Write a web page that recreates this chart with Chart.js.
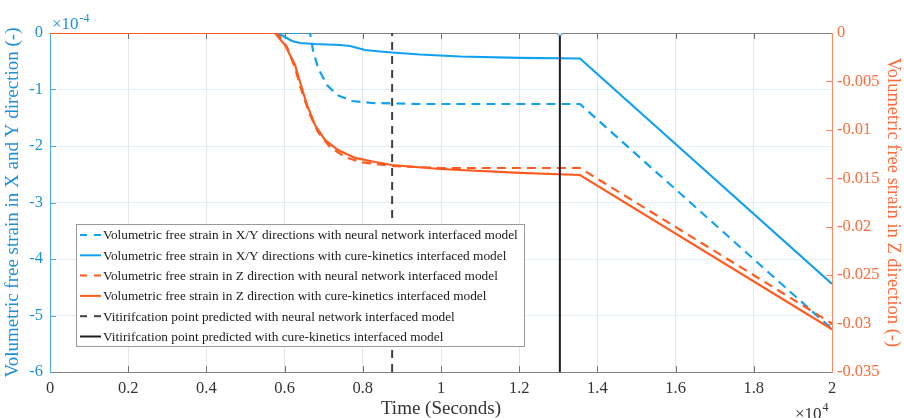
<!DOCTYPE html>
<html>
<head>
<meta charset="utf-8">
<script src="https://cdn.jsdelivr.net/npm/chart.js@4.4.1/dist/chart.umd.min.js"></script>
<style>
  html, body { margin: 0; padding: 0; background: #ffffff; }
  #wrap { width: 904px; height: 418px; }
</style>
</head>
<body>
<div id="wrap"><canvas id="c" width="904" height="418"></canvas></div>
<script>
// Time in seconds, strains dimensionless.
// X/Y strain, neural network interfaced model (left axis)
const TIME_XY_NN   = [0, 6650, 6726, 6854, 7084, 7340, 7724, 8235, 9463, 13555, 20000];
const STRAIN_XY_NN = [0, 0, -0.301e-4, -0.619e-4, -0.920e-4, -1.097e-4, -1.204e-4, -1.239e-4, -1.257e-4, -1.257e-4, -5.24e-4];

// X/Y strain, cure-kinetics interfaced model (left axis)
const TIME_XY_CK   = [0, 5806, 6010, 6189, 6394, 6777, 7417, 7673, 8056, 8440, 8747, 9463, 10486, 12020, 13555, 20000];
const STRAIN_XY_CK = [0, 0, -0.071e-4, -0.142e-4, -0.177e-4, -0.195e-4, -0.212e-4, -0.230e-4, -0.301e-4, -0.327e-4, -0.345e-4, -0.381e-4, -0.416e-4, -0.439e-4, -0.451e-4, -4.44e-4];

// Z strain, neural network interfaced model (right axis)
const TIME_Z_NN   = [0, 5806, 6061, 6266, 6445, 6650, 6854, 7161, 7545, 7928, 8312, 8747, 9974, 13555, 20000];
const STRAIN_Z_NN = [0, 0, -0.00145, -0.00361, -0.00609, -0.00847, -0.01022, -0.01177, -0.01280, -0.01332, -0.01352, -0.01373, -0.01394, -0.01394, -0.0300];

// Z strain, cure-kinetics interfaced model (right axis)
const TIME_Z_CK   = [0, 5754, 6010, 6266, 6394, 6573, 6777, 7033, 7366, 7801, 8312, 8747, 9974, 12020, 13555, 20000];
const STRAIN_Z_CK = [0, 0, -0.00124, -0.00330, -0.00506, -0.00743, -0.00950, -0.01104, -0.01208, -0.01290, -0.01332, -0.01363, -0.01404, -0.01445, -0.01466, -0.0306];

// Vitrification points
const VITRI_NN_TIME = 8750;
const VITRI_CK_TIME = 13040;

// Axis ranges and tick steps
const X_RANGE = [0, 20000], X_STEP = 2000;
const YL_RANGE = [-6e-4, 0], YL_STEP = 1e-4;
const YR_RANGE = [-0.035, 0], YR_STEP = 0.005;

const LABELS = [
  'Volumetric free strain in X/Y directions with neural network interfaced model',
  'Volumetric free strain in X/Y directions with cure-kinetics interfaced model',
  'Volumetric free strain in Z direction with neural network interfaced model',
  'Volumetric free strain in Z direction with cure-kinetics interfaced model',
  'Vitirifcation point predicted with neural network interfaced model',
  'Vitirifcation point predicted with cure-kinetics interfaced model'
];

const SERIF = '"Liberation Serif", "Times New Roman", serif';
const BLUE = '#12a0f0';
const ORANGE = '#ff5b1f';
const BLUE_TEXT = '#1e90d6';
const ORANGE_TEXT = '#ff6a3a';

const pts = (xs, ys) => xs.map((x, i) => ({ x, y: ys[i] }));

const datasets = [
  { label: LABELS[0], data: pts(TIME_XY_NN, STRAIN_XY_NN), yAxisID: 'y',
    borderColor: BLUE, borderWidth: 2.2, borderDash: [9, 6], order: 4 },
  { label: LABELS[1], data: pts(TIME_XY_CK, STRAIN_XY_CK), yAxisID: 'y',
    borderColor: BLUE, borderWidth: 2.2, order: 3 },
  { label: LABELS[2], data: pts(TIME_Z_NN, STRAIN_Z_NN), yAxisID: 'y2',
    borderColor: ORANGE, borderWidth: 2.2, borderDash: [9, 6], order: 2 },
  { label: LABELS[3], data: pts(TIME_Z_CK, STRAIN_Z_CK), yAxisID: 'y2',
    borderColor: ORANGE, borderWidth: 2.2, order: 1 },
  { label: LABELS[4], data: [{ x: VITRI_NN_TIME, y: YL_RANGE[0] }, { x: VITRI_NN_TIME, y: YL_RANGE[1] }], yAxisID: 'y',
    borderColor: '#404040', borderWidth: 2, borderDash: [8, 6], order: 0 },
  { label: LABELS[5], data: [{ x: VITRI_CK_TIME, y: YL_RANGE[0] }, { x: VITRI_CK_TIME, y: YL_RANGE[1] }], yAxisID: 'y',
    borderColor: '#1e1e1e', borderWidth: 2, order: 0,
    pointRadius: ctx => ctx.dataIndex === 1 ? 2.5 : 0,
    pointBorderColor: '#4f8fc4', pointBackgroundColor: '#d8e8f6', pointBorderWidth: 1 }
];

// Frame, inward tick marks and exponent notes
const framePlugin = {
  id: 'frame',
  beforeDatasetsDraw(chart) {
    const { ctx, chartArea: a, scales } = chart;
    ctx.save();
    ctx.lineWidth = 1;
    // inward tick marks
    ctx.strokeStyle = '#707070';
    scales.x.ticks.forEach(t => {
      const px = Math.round(scales.x.getPixelForValue(t.value)) + 0.5;
      ctx.beginPath();
      ctx.moveTo(px, a.bottom); ctx.lineTo(px, a.bottom - 6);
      ctx.moveTo(px, a.top); ctx.lineTo(px, a.top + 6);
      ctx.stroke();
    });
    ctx.strokeStyle = '#4aa8e6';
    scales.y.ticks.forEach(t => {
      const py = Math.round(scales.y.getPixelForValue(t.value)) + 0.5;
      ctx.beginPath(); ctx.moveTo(a.left, py); ctx.lineTo(a.left + 6, py); ctx.stroke();
    });
    ctx.strokeStyle = '#ff8a62';
    scales.y2.ticks.forEach(t => {
      const py = Math.round(scales.y2.getPixelForValue(t.value)) + 0.5;
      ctx.beginPath(); ctx.moveTo(a.right, py); ctx.lineTo(a.right - 6, py); ctx.stroke();
    });
    // box
    ctx.strokeStyle = '#7f7f7f';
    ctx.beginPath();
    ctx.moveTo(a.left, a.top + 0.5); ctx.lineTo(a.right, a.top + 0.5);
    ctx.moveTo(a.left, a.bottom + 0.5); ctx.lineTo(a.right, a.bottom + 0.5);
    ctx.stroke();
    ctx.strokeStyle = '#4aa8e6';
    ctx.beginPath(); ctx.moveTo(a.left + 0.5, a.top); ctx.lineTo(a.left + 0.5, a.bottom + 1); ctx.stroke();
    ctx.strokeStyle = '#ff8a62';
    ctx.beginPath(); ctx.moveTo(a.right + 0.5, a.top); ctx.lineTo(a.right + 0.5, a.bottom + 1); ctx.stroke();

    // exponent notes
    ctx.textBaseline = 'alphabetic';
    ctx.textAlign = 'left';
    ctx.fillStyle = BLUE_TEXT;
    ctx.font = '17px ' + SERIF;
    ctx.fillText('\u00d710', a.left + 2, a.top - 4);
    let w = ctx.measureText('\u00d710').width;
    ctx.font = '12px ' + SERIF;
    ctx.fillText('-4', a.left + 2 + w + 1, a.top - 11);

    ctx.fillStyle = '#333333';
    ctx.font = '17px ' + SERIF;
    ctx.fillText('\u00d710', a.right - 37, chart.height + 1);
    w = ctx.measureText('\u00d710').width;
    ctx.font = '12px ' + SERIF;
    ctx.fillText('4', a.right - 37 + w + 1, chart.height - 7);
    ctx.restore();
  },
  afterDraw(chart) {
    // legend box inside the plot area
    const { ctx, chartArea: a } = chart;
    const box = { left: a.left + 26, top: a.top + 191, right: a.left + 474, bottom: a.top + 313 };
    ctx.save();
    ctx.fillStyle = '#ffffff';
    ctx.fillRect(box.left, box.top, box.right - box.left, box.bottom - box.top);
    ctx.strokeStyle = '#9a9a9a';
    ctx.lineWidth = 1;
    ctx.strokeRect(box.left + 0.5, box.top + 0.5, box.right - box.left, box.bottom - box.top);
    ctx.font = '13.3px ' + SERIF;
    ctx.textBaseline = 'middle';
    ctx.textAlign = 'left';
    chart.data.datasets.forEach((ds, i) => {
      const y = box.top + 11 + i * 20.3;
      ctx.strokeStyle = ds.borderColor;
      ctx.lineWidth = 2;
      ctx.setLineDash(ds.borderDash ? [7, 7] : []);
      ctx.beginPath(); ctx.moveTo(box.left + 4, y); ctx.lineTo(box.left + 25, y); ctx.stroke();
      ctx.setLineDash([]);
      ctx.fillStyle = '#1a1a1a';
      ctx.fillText(ds.label, box.left + 27, y + 1);
    });
    ctx.restore();
  }
};

const fmtNum = v => String(+v.toFixed(4));

new Chart(document.getElementById('c'), {
  type: 'line',
  data: { datasets },
  plugins: [framePlugin],
  options: {
    responsive: false,
    animation: false,
    devicePixelRatio: 1,
    layout: { padding: { top: 33, left: 0, right: 0, bottom: 0 } },
    plugins: { legend: { display: false }, tooltip: { enabled: false } },
    elements: { point: { radius: 0 }, line: { tension: 0 } },
    scales: {
      x: {
        type: 'linear', min: X_RANGE[0], max: X_RANGE[1],
        ticks: { stepSize: X_STEP, autoSkip: false, maxRotation: 0, padding: 7, color: '#333333',
                 font: { family: SERIF, size: 16.5 },
                 callback: v => fmtNum(v / 1e4) },
        grid: { color: '#e6e6e6', drawTicks: false },
        border: { display: false },
        title: { display: true, text: 'Time (Seconds)', color: '#333333',
                 font: { family: SERIF, size: 19 }, padding: { top: 0, bottom: -2 } },
        afterFit: s => { s.height = 46; }
      },
      y: {
        position: 'left', min: YL_RANGE[0], max: YL_RANGE[1],
        ticks: { stepSize: YL_STEP, padding: 7, color: BLUE_TEXT,
                 font: { family: SERIF, size: 16.5 },
                 callback: v => String(Math.round(v * 1e4) || 0) },
        grid: { color: '#e2eef8', drawTicks: false },
        border: { display: false },
        title: { display: true, text: 'Volumetric free strain in X and Y direction (-)', color: BLUE_TEXT,
                 font: { family: SERIF, size: 19 }, padding: { top: 2, bottom: 0 } },
        afterFit: s => { s.width = 50; }
      },
      y2: {
        position: 'right', min: YR_RANGE[0], max: YR_RANGE[1],
        ticks: { stepSize: YR_STEP, padding: 5, color: ORANGE_TEXT,
                 font: { family: SERIF, size: 16.5 },
                 callback: v => fmtNum(v) },
        grid: { display: false, drawTicks: false },
        border: { display: false },
        title: { display: true, text: 'Volumetric free strain in Z direction (-)', color: ORANGE_TEXT,
                 font: { family: SERIF, size: 18.5 }, padding: { top: 0, bottom: 0 } },
        afterFit: s => { s.width = 72; }
      }
    }
  }
});
</script>
</body>
</html>
